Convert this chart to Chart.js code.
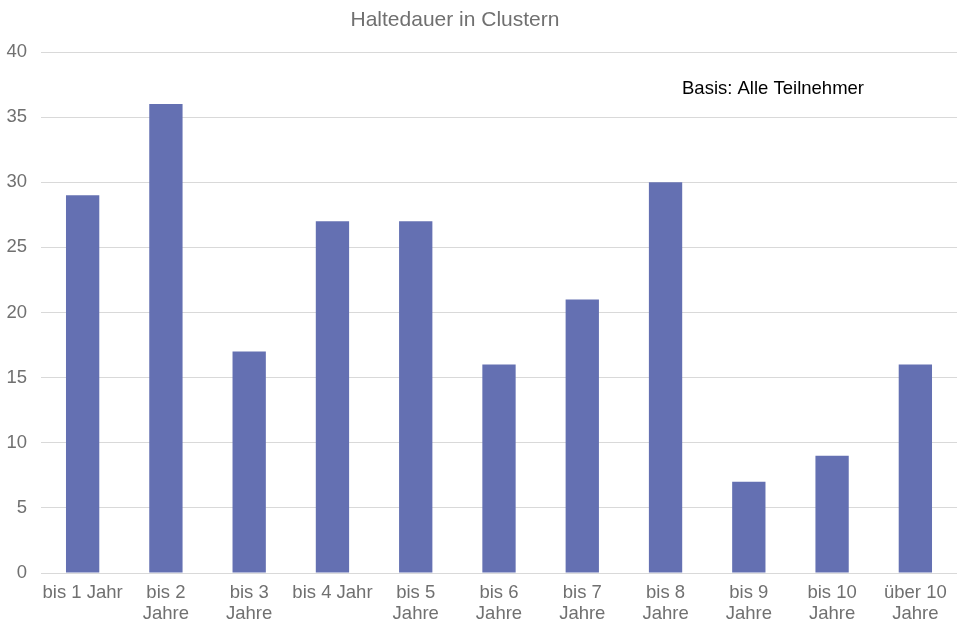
<!DOCTYPE html>
<html>
<head>
<meta charset="utf-8">
<script src="https://cdn.jsdelivr.net/npm/chart.js@4"></script>
<style>
  html, body { margin: 0; padding: 0; background: #fff; }
  #wrap { width: 957px; height: 621px; }
</style>
</head>
<body>
<div id="wrap"><canvas id="myChart" width="957" height="621"></canvas></div>
<script>
  const chartTitle = 'Haltedauer in Clustern';
  const noteText = 'Basis: Alle Teilnehmer';
  const categories = [
    'bis 1 Jahr', ['bis 2', 'Jahre'], ['bis 3', 'Jahre'], 'bis 4 Jahr',
    ['bis 5', 'Jahre'], ['bis 6', 'Jahre'], ['bis 7', 'Jahre'], ['bis 8', 'Jahre'],
    ['bis 9', 'Jahre'], ['bis 10', 'Jahre'], ['über 10', 'Jahre']
  ];
  const values = [29, 36, 17, 27, 27, 16, 21, 30, 7, 9, 16];
  const yTicks = [0, 5, 10, 15, 20, 25, 30, 35, 40];

  const FONT = '"Liberation Sans", Arial, sans-serif';
  const TEXT_GREY = '#707070';

  // title + note drawn by hand so the title can sit left of centre
  const textPlugin = {
    id: 'texts',
    afterDraw(chart) {
      const ctx = chart.ctx;
      ctx.save();
      ctx.textBaseline = 'middle';
      ctx.font = '21px ' + FONT;
      ctx.fillStyle = TEXT_GREY;
      ctx.textAlign = 'center';
      ctx.fillText(chartTitle, 455, 20);
      ctx.font = '18.5px ' + FONT;
      ctx.fillStyle = '#000000';
      ctx.textAlign = 'left';
      ctx.fillText(noteText, 682, 89);
      ctx.restore();
    }
  };

  const ctx = document.getElementById('myChart').getContext('2d');
  const myChart = new Chart(ctx, {
    type: 'bar',
    data: {
      labels: categories,
      datasets: [
        {
          data: values,
          backgroundColor: '#6470B2',
          barPercentage: 0.4,
          categoryPercentage: 1,
        },
      ],
    },
    options: {
      responsive: false,
      animation: false,
      layout: { padding: { top: 52, right: 0, left: 0, bottom: 0 } },
      plugins: {
        legend: { display: false },
        title: { display: false },
        tooltip: { enabled: false },
      },
      scales: {
        x: {
          grid: { display: false, drawTicks: false },
          border: { display: false },
          ticks: {
            color: TEXT_GREY,
            padding: 9,
            maxRotation: 0,
            autoSkip: false,
            font: { family: FONT, size: 18.5, lineHeight: 1.14 },
          },
          afterFit(scale) { scale.height = 48; },
        },
        y: {
          min: 0,
          max: 40,
          afterBuildTicks(scale) { scale.ticks = yTicks.map(v => ({ value: v })); },
          grid: { color: '#d9d9d9', lineWidth: 1, drawTicks: false },
          border: { display: false },
          ticks: {
            color: TEXT_GREY,
            padding: 14,
            font: { family: FONT, size: 18.5 },
          },
          afterFit(scale) { scale.width = 41; },
        },
      },
    },
    plugins: [textPlugin],
  });
</script>
</body>
</html>
